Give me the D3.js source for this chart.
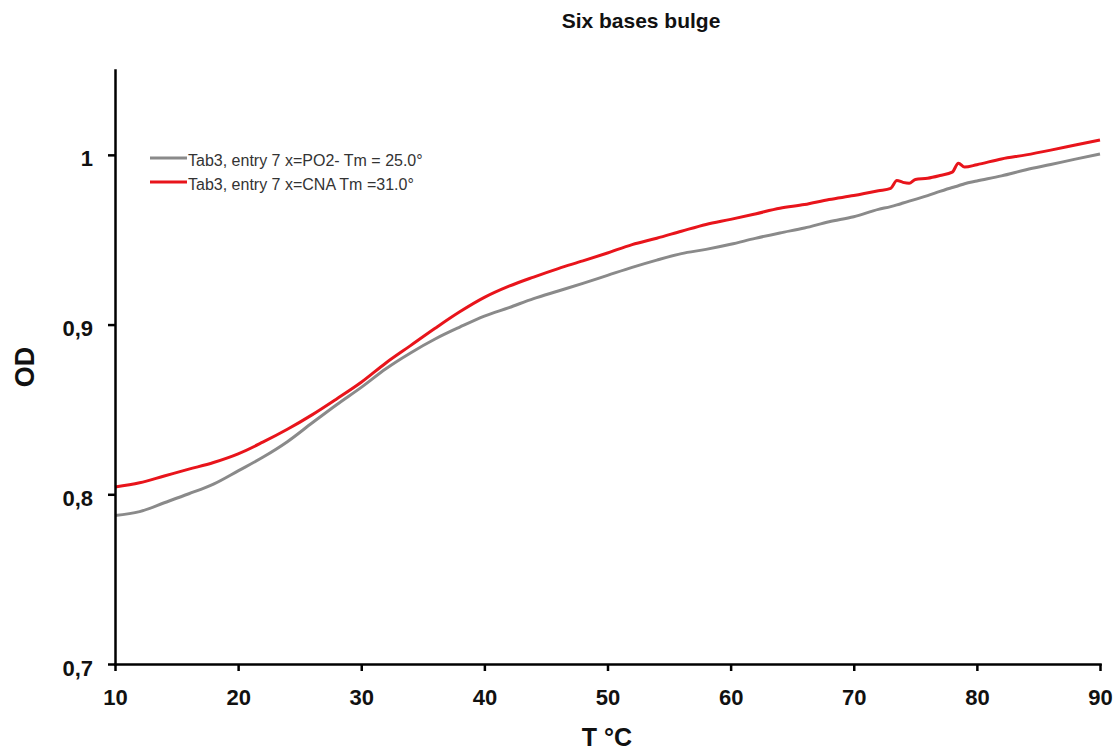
<!DOCTYPE html>
<html>
<head>
<meta charset="utf-8">
<script src="https://cdn.jsdelivr.net/npm/d3@7"></script>
<style>
  html, body { margin: 0; padding: 0; background: #fff; }
  svg { display: block; font-family: "Liberation Sans", Arial, Helvetica, sans-serif; }
</style>
</head>
<body>
<svg id="chart" width="1117" height="751"></svg>
<script>
// Melting curves: temperature (°C) against optical density
const temperatures = [10, 12, 14, 16, 18, 20, 22, 24, 26, 28, 30, 32, 34, 36, 38, 40,
  42, 44, 46, 48, 50, 52, 54, 56, 58, 60, 62, 64, 66, 68, 70, 72,
  73, 73.5, 74, 74.5, 75, 76, 77, 78, 78.5, 79, 80, 82, 84, 86, 88, 90];

const odPO2 = [0.7875, 0.7898, 0.7950, 0.8003, 0.8060, 0.8138, 0.8218, 0.8310, 0.8420, 0.8528,
  0.8630, 0.8740, 0.8833, 0.8915, 0.8985, 0.9050, 0.9100, 0.9153, 0.9198, 0.9243,
  0.9290, 0.9337, 0.9380, 0.9418, 0.9443, 0.9473, 0.9508, 0.9540, 0.9569, 0.9606,
  0.9635, 0.9679, 0.9695, 0.9705, 0.9716, 0.9727, 0.9738, 0.9760, 0.9785, 0.9808,
  0.9818, 0.9830, 0.9846, 0.9876, 0.9912, 0.9943, 0.9975, 1.0005];

const odCNA = [0.8043, 0.8068, 0.8108, 0.8148, 0.8187, 0.8238, 0.8307, 0.8383, 0.8468, 0.8562,
  0.8660, 0.8774, 0.8876, 0.8978, 0.9075, 0.9160, 0.9226, 0.9280, 0.9330, 0.9375,
  0.9422, 0.9471, 0.9509, 0.9550, 0.9590, 0.9620, 0.9652, 0.9685, 0.9707, 0.9737,
  0.9760, 0.9788, 0.9803, 0.9849, 0.9838, 0.9833, 0.9855, 0.9862, 0.9878, 0.9898,
  0.9951, 0.9928, 0.9942, 0.9976, 1.0000, 1.0028, 1.0058, 1.0088];

const seriesNames = ["Tab3, entry 7 x=PO2- Tm = 25.0°", "Tab3, entry 7 x=CNA Tm =31.0°"];
const seriesColors = ["#8a8a8a", "#e8141b"];
const xTicks = [10, 20, 30, 40, 50, 60, 70, 80, 90];
const yTicks = [0.7, 0.8, 0.9, 1.0];

const svg = d3.select("#chart");
const margin = { left: 115, right: 17, top: 70, bottom: 87 };
const W = 1117, H = 751;

const x = d3.scaleLinear().domain([10, 90]).range([margin.left, W - margin.right]);
const y = d3.scaleLinear().domain([0.7, 1.05]).range([H - margin.bottom, margin.top]);

const fmtY = v => (v === 1 ? "1" : d3.format(".1f")(v).replace(".", ","));

// Curves
const line = d3.line()
  .x(d => x(d[0]))
  .y(d => y(d[1]))
  .curve(d3.curveMonotoneX);

[odPO2, odCNA].forEach((vals, i) => {
  svg.append("path")
    .datum(temperatures.map((t, k) => [t, vals[k]]))
    .attr("fill", "none")
    .attr("stroke", seriesColors[i])
    .attr("stroke-width", 3)
    .attr("stroke-linejoin", "round")
    .attr("d", line);
});

// Axes
const xAxis = svg.append("g")
  .attr("transform", `translate(0,${y(0.7)})`)
  .call(d3.axisBottom(x).tickValues(xTicks).tickSize(7).tickSizeOuter(0).tickPadding(18));

const yAxis = svg.append("g")
  .attr("transform", `translate(${x(10)},0)`)
  .call(d3.axisLeft(y).tickValues(yTicks).tickFormat(fmtY).tickSize(7).tickSizeOuter(0).tickPadding(15));

[xAxis, yAxis].forEach(g => {
  g.select(".domain").attr("stroke", "#000").attr("stroke-width", 2.5).attr("stroke-linecap", "square");
  g.selectAll(".tick line").attr("stroke", "#000").attr("stroke-width", 2.5);
  g.selectAll(".tick text")
    .attr("fill", "#111")
    .style("font-size", "22px")
    .style("font-weight", "bold")
    .style("font-family", "'Liberation Sans', Arial, sans-serif");
});
xAxis.selectAll(".tick text").attr("dy", "0.71em");
yAxis.selectAll(".tick text").attr("dy", "0.5em");

// Title
svg.append("text")
  .attr("x", 641).attr("y", 28)
  .attr("text-anchor", "middle")
  .style("font-size", "21px").style("font-weight", "bold")
  .attr("fill", "#111")
  .text("Six bases bulge");

// Axis titles
svg.append("text")
  .attr("x", 607).attr("y", 746)
  .attr("text-anchor", "middle")
  .style("font-size", "25px").style("font-weight", "bold")
  .attr("fill", "#111")
  .text("T °C");

svg.append("text")
  .attr("transform", `translate(34,367) rotate(-90)`)
  .attr("text-anchor", "middle")
  .style("font-size", "27px").style("font-weight", "bold")
  .attr("fill", "#111")
  .text("OD");

// Legend
const legend = svg.append("g").attr("transform", "translate(150,158)");
seriesNames.forEach((name, i) => {
  const row = legend.append("g").attr("transform", `translate(0,${i * 24})`);
  row.append("line")
    .attr("x1", 0).attr("x2", 37).attr("y1", 0).attr("y2", 0)
    .attr("stroke", seriesColors[i]).attr("stroke-width", 3);
  row.append("text")
    .attr("x", 38).attr("y", 7.5)
    .style("font-size", "16px")
    .attr("fill", "#333")
    .text(name);
});
</script>
</body>
</html>
